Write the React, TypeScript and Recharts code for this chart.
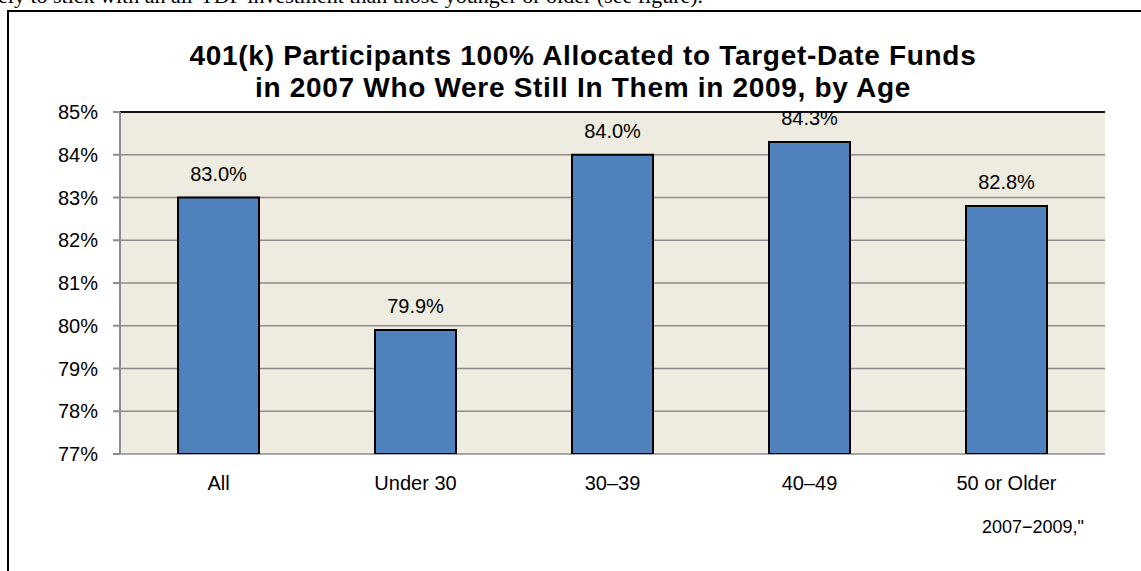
import {
  Bar,
  BarChart,
  CartesianGrid,
  LabelList,
  ReferenceLine,
  XAxis,
  YAxis,
} from "recharts";

const ageGroups = ["All", "Under 30", "30–39", "40–49", "50 or Older"];
const stillInTdf = [83.0, 79.9, 84.0, 84.3, 82.8];
const yTicks = [77, 78, 79, 80, 81, 82, 83, 84, 85];
const boundaryTicks = [0, 1, 2, 3, 4, 5];

const data = ageGroups.map((age, i) => ({ age, pct: stillInTdf[i] }));

const font = "Arial, 'Liberation Sans', sans-serif";
const gray = "#8c8c8c";

function App() {
  return (
    <div
      style={{
        position: "absolute",
        left: 0,
        top: 0,
        width: 1141,
        height: 571,
        overflow: "hidden",
        background: "#fff",
        fontFamily: font,
      }}
    >
      <div
        style={{
          position: "absolute",
          left: -2,
          top: -15,
          fontFamily: "'Liberation Serif', 'Times New Roman', serif",
          fontSize: 22,
          lineHeight: 1,
          whiteSpace: "nowrap",
          color: "#000",
        }}
      >
        ely to stick with an all-TDF investment than those younger or older (see figure).
      </div>
      <div
        style={{
          position: "absolute",
          left: 7,
          top: 10,
          width: 1200,
          height: 600,
          border: "2px solid #000",
        }}
      />
      <div
        style={{
          position: "absolute",
          left: 0,
          top: 40,
          width: 1166,
          textAlign: "center",
          fontWeight: "bold",
          fontSize: 28,
          letterSpacing: 0.7,
          lineHeight: "32px",
          color: "#000",
        }}
      >
        401(k) Participants 100% Allocated to Target-Date Funds
        <br />
        in 2007 Who Were Still In Them in 2009, by Age
      </div>
      <div style={{ position: "absolute", left: 0, top: 0 }}>
        <BarChart
          width={1141}
          height={571}
          data={data}
          margin={{ top: 112, right: 36, bottom: 57, left: 60 }}
          barCategoryGap={58}
        >
          <CartesianGrid
            xAxisId="cat"
            yAxisId="left"
            vertical={false}
            fill="#eeebe0"
            stroke={gray}
            strokeWidth={1.5}
          />
          <XAxis
            xAxisId="bounds"
            type="number"
            domain={[0, 5]}
            ticks={boundaryTicks}
            allowDataOverflow
            tick={false}
            height={0}
            tickSize={7}
            axisLine={{ stroke: gray, strokeWidth: 2 }}
            tickLine={{ stroke: gray, strokeWidth: 2 }}
          />
          <XAxis
            xAxisId="cat"
            dataKey="age"
            height={60}
            axisLine={false}
            tickLine={false}
            tickSize={0}
            tickMargin={22}
            tick={{ fill: "#000", fontSize: 20, fontFamily: font }}
          />
          <YAxis
            yAxisId="left"
            domain={[77, 85]}
            ticks={yTicks}
            width={60}
            tickSize={7}
            tickMargin={15}
            tickFormatter={(v: number) => `${v}%`}
            axisLine={{ stroke: gray, strokeWidth: 2 }}
            tickLine={{ stroke: gray, strokeWidth: 2 }}
            tick={{ fill: "#000", fontSize: 20, fontFamily: font }}
            allowDataOverflow
          />
          <YAxis
            yAxisId="right"
            orientation="right"
            domain={[77, 85]}
            width={0}
            tick={false}
            tickLine={false}
            axisLine={{ stroke: "#222", strokeWidth: 2 }}
          />
          <ReferenceLine
            yAxisId="left"
            xAxisId="cat"
            y={85}
            stroke="#111"
            strokeWidth={2}
          />
          <Bar
            xAxisId="cat"
            yAxisId="left"
            dataKey="pct"
            fill="#4f81bd"
            stroke="#000"
            strokeWidth={2}
            isAnimationActive={false}
          >
            <LabelList
              dataKey="pct"
              position="top"
              offset={17}
              formatter={(v: number) => `${Number(v).toFixed(1)}%`}
              style={{ fill: "#000", fontSize: 20, fontFamily: font }}
            />
          </Bar>
        </BarChart>
      </div>
      <div
        style={{
          position: "absolute",
          left: 982,
          top: 516,
          fontSize: 18,
          lineHeight: "22px",
          color: "#000",
          whiteSpace: "nowrap",
        }}
      >
        2007−2009,"
      </div>
    </div>
  );
}

export default App;
